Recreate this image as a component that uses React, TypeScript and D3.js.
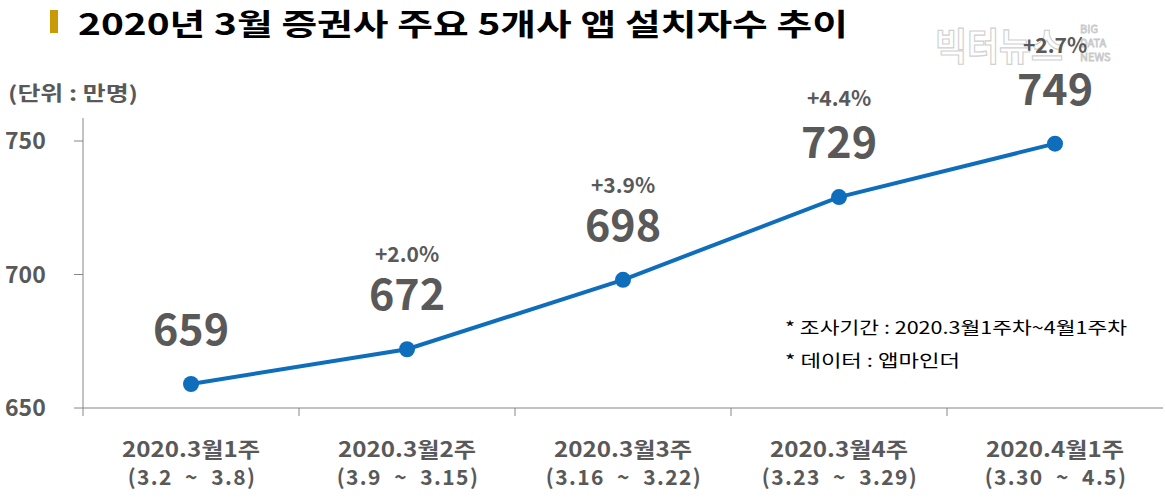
import React from "react";
import * as d3 from "d3";

const categories = ["2020.3월1주", "2020.3월2주", "2020.3월3주", "2020.3월4주", "2020.4월1주"];
const ranges = ["(3.2  ~  3.8)", "(3.9  ~  3.15)", "(3.16  ~  3.22)", "(3.23  ~  3.29)", "(3.30  ~  4.5)"];
const values = [659, 672, 698, 729, 749];
const changes = ["", "+2.0%", "+3.9%", "+4.4%", "+2.7%"];
const yTicks = [650, 700, 750];

const W = 1165;
const H = 498;
const FONT = "'Noto Sans CJK KR', 'Noto Sans', sans-serif";
const GREY = "#595959";

export default function App() {
  const left = 83;
  const right = 1163;
  const x = d3.scaleBand<string>().domain(categories).range([left, right]);
  const y = d3.scaleLinear().domain([650, 750]).range([408, 141]);
  const line = d3
    .line<number>()
    .x((_, i) => (x(categories[i]) as number) + x.bandwidth() / 2)
    .y((d) => y(d));

  return (
    <svg width={W} height={H} style={{ position: "absolute", left: 0, top: 0, fontFamily: FONT }}>
      <rect width={W} height={H} fill="#fff" />
      {/* watermark */}
      <g>
        <text x={935} y={60} fontSize={38} fontWeight={700} fill="#fff" stroke="#d0d0d0" strokeWidth={1.2} textLength={128} lengthAdjust="spacingAndGlyphs">
          빅터뉴스
        </text>
        <text x={1080} y={33} fontSize={11} fill="#fff" stroke="#c8c8c8" strokeWidth={0.8}>BIG</text>
        <text x={1080} y={47} fontSize={11} fill="#fff" stroke="#c8c8c8" strokeWidth={0.8}>DATA</text>
        <text x={1080} y={61} fontSize={11} fill="#fff" stroke="#c8c8c8" strokeWidth={0.8}>NEWS</text>
      </g>
      {/* title */}
      <rect x={50} y={10} width={8} height={23} fill="#C99A06" />
      <text x={78} y={35} fontSize={30} fontWeight={700} fill="#000" textLength={770} lengthAdjust="spacingAndGlyphs">
        2020년 3월 증권사 주요 5개사 앱 설치자수 추이
      </text>
      <text x={8} y={101} fontSize={20} fontWeight={700} fill={GREY} textLength={130} lengthAdjust="spacingAndGlyphs">
        (단위 : 만명)
      </text>
      {/* axes */}
      <line x1={left} x2={left} y1={118} y2={416} stroke="#868686" strokeWidth={1} />
      <line x1={left} x2={right} y1={408} y2={408} stroke="#868686" strokeWidth={1} />
      {yTicks.map((t) => (
        <g key={t}>
          <line x1={74} x2={left} y1={y(t)} y2={y(t)} stroke="#868686" />
          <text x={5} y={y(t) + 8} fontSize={23} fontWeight={700} fill={GREY}>
            {t}
          </text>
        </g>
      ))}
      {categories.map((c, i) => {
        const x0 = x(c) as number;
        const cx = x0 + x.bandwidth() / 2;
        return (
          <g key={c}>
            {i > 0 && <line x1={x0} x2={x0} y1={408} y2={416} stroke="#868686" />}
            <text x={cx} y={457} textAnchor="middle" fontSize={21} fontWeight={700} fill={GREY} textLength={138} lengthAdjust="spacingAndGlyphs">
              {c}
            </text>
            <text x={cx + 1} y={485} textAnchor="middle" fontSize={21} fontWeight={700} fill={GREY} letterSpacing={1.4} style={{ whiteSpace: "pre" }}>
              {ranges[i]}
            </text>
          </g>
        );
      })}
      {/* line */}
      <path d={line(values) || ""} fill="none" stroke="#0E6EBC" strokeWidth={4} />
      {values.map((v, i) => {
        const cx = (x(categories[i]) as number) + x.bandwidth() / 2;
        const cy = y(v);
        return (
          <g key={i}>
            <circle cx={cx} cy={cy} r={8} fill="#0E6EBC" />
            <text x={cx} y={cy - 39} textAnchor="middle" fontSize={43} fontWeight={700} fill={GREY}>
              {v}
            </text>
            {changes[i] && (
              <text x={cx} y={cy - (i >= 3 ? 91 : 87)} textAnchor="middle" fontSize={21} fontWeight={700} fill={GREY}>
                {changes[i]}
              </text>
            )}
          </g>
        );
      })}
      {/* notes */}
      <text x={785} y={334} fontSize={17} fill="#000" textLength={342} lengthAdjust="spacingAndGlyphs">* 조사기간 : 2020.3월1주차~4월1주차</text>
      <text x={785} y={367} fontSize={17} fill="#000" textLength={175} lengthAdjust="spacingAndGlyphs">* 데이터 : 앱마인더</text>
    </svg>
  );
}
